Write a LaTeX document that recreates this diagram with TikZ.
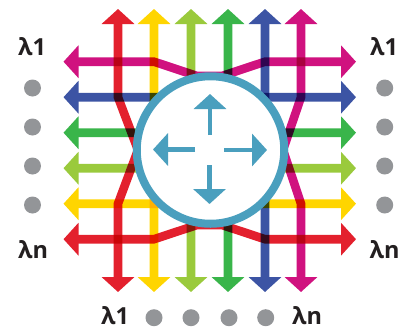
\documentclass[tikz,border=0pt]{standalone}
\usepackage{fontspec}
\setmainfont{Open Sans}
\usetikzlibrary{arrows.meta}
\definecolor{cred}{HTML}{E3202D}
\definecolor{cyel}{HTML}{FFD500}
\definecolor{clgr}{HTML}{9ACA3C}
\definecolor{cgrn}{HTML}{39B54A}
\definecolor{cblu}{HTML}{3C54A4}
\definecolor{cmag}{HTML}{D0127F}
\definecolor{cteal}{HTML}{4A9FBE}
\definecolor{cdot}{HTML}{939598}
\definecolor{ctxt}{HTML}{231F20}
\tikzset{
  wave/.style={line width=8.6pt,{Triangle[length=15pt,width=32pt]}-{Triangle[length=15pt,width=32pt]}},
  onewave/.style={transparency group,blend mode=multiply},
  inner arrow/.style={line width=4.5pt,color=cteal,-{Triangle[length=15pt,width=32pt]}},
  dotmark/.style={circle,fill=cdot,minimum size=17pt,inner sep=0pt},
  lambda/.style={font=\fontsize{23.5}{24}\selectfont\bfseries,text=ctxt,inner sep=0pt}
}
\newcommand{\wavedraw}[2]{\begin{scope}[onewave]\draw[wave,#1] #2;\end{scope}}
\begin{document}
\begin{tikzpicture}[x=1pt,y=-1pt]
\useasboundingbox (0,0) rectangle (401,330);
\fill[white] (0,0) rectangle (401,330);
\foreach \n/\x in {1/118,2/154,3/191,4/228,5/265,6/301}{
  \coordinate (t\n) at (\x,9);
  \coordinate (b\n) at (\x,292);
}
\foreach \n/\y in {1/61.7,2/97.2,3/132.7,4/168.2,5/203.7,6/239.2}{
  \coordinate (l\n) at (63.5,\y);
  \coordinate (r\n) at (356,\y);
}
\coordinate (c) at (210.5,150);
\wavedraw{cmag}{(l1) -- (154,61.7) -- (197,76) -- (222,76) -- (265,61.7) -- (r1)}
\wavedraw{cblu}{(l2) -- (r2)}
\wavedraw{cgrn}{(l3) -- (r3)}
\wavedraw{clgr}{(l4) -- (r4)}
\wavedraw{cyel}{(l5) -- (r5)}
\wavedraw{cred}{(l6) -- (154,239.2) -- (197,225) -- (222,225) -- (265,239.2) -- (r6)}
\wavedraw{cred}{(t1) -- (118,97.2) -- (138,150) -- (118,203.7) -- (b1)}
\wavedraw{cyel}{(t2) -- (b2)}
\wavedraw{clgr}{(t3) -- (b3)}
\wavedraw{cgrn}{(t4) -- (b4)}
\wavedraw{cblu}{(t5) -- (b5)}
\wavedraw{cmag}{(t6) -- (301,97.2) -- (283,150) -- (301,203.7) -- (b6)}
\node[circle,draw=cteal,fill=white,line width=8pt,minimum size=147.5pt,inner sep=0pt] (router) at (c) {};
\coordinate (ua) at (210,135); \coordinate (ub) at (210,94);
\coordinate (da) at (209.5,165); \coordinate (db) at (209.5,204);
\coordinate (la) at (195,149.5); \coordinate (lb) at (153,149.5);
\coordinate (ra) at (224,150); \coordinate (rb) at (267,150);
\draw[inner arrow] (ua) -- (ub);
\draw[inner arrow] (da) -- (db);
\draw[inner arrow] (la) -- (lb);
\draw[inner arrow] (ra) -- (rb);
\foreach \y [count=\i] in {88,127,166,205}{
  \node[dotmark] (dl\i) at (32.5,\y) {};
  \node[dotmark] (dr\i) at (384.7,\y) {};
}
\foreach \x [count=\i] in {154,191,229,265.7}{
  \node[dotmark] (db\i) at (\x,317.7) {};
}
\node[lambda] (tl) at (32,47) {λ1};
\node[lambda] (tr) at (384,47) {λ1};
\node[lambda] (bl) at (33,250) {λn};
\node[lambda] (br) at (384.5,250) {λn};
\node[lambda] (b1l) at (115,316) {λ1};
\node[lambda] (b2l) at (307,316) {λn};
\end{tikzpicture}
\end{document}
